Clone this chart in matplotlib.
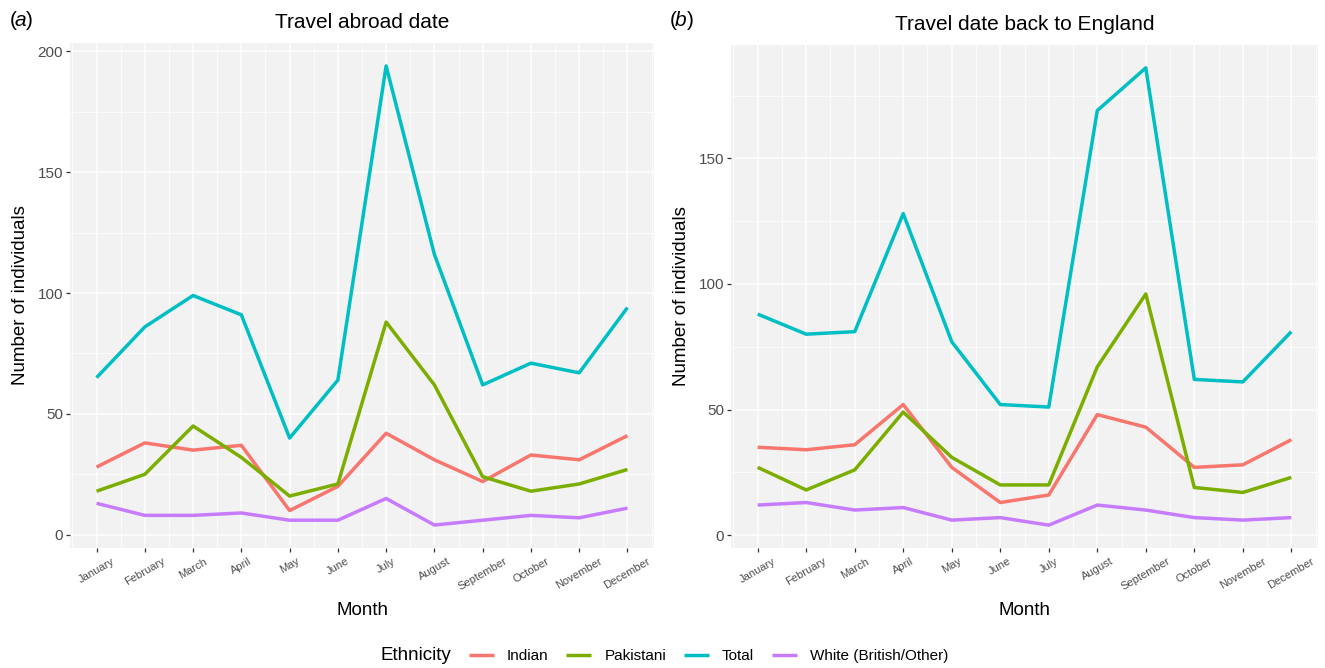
import numpy as np
import matplotlib.pyplot as plt
from matplotlib.ticker import MultipleLocator

months = ["January", "February", "March", "April", "May", "June", "July",
          "August", "September", "October", "November", "December"]
groups = ["Indian", "Pakistani", "Total", "White (British/Other)"]
colores = ["#F8766D", "#7CAE00", "#00BFC4", "#C77CFF"]

# (a) Travel abroad date
abroad_indian = [28, 38, 35, 37, 10, 20, 42, 31, 22, 33, 31, 41]
abroad_pakistani = [18, 25, 45, 32, 16, 21, 88, 62, 24, 18, 21, 27]
abroad_total = [65, 86, 99, 91, 40, 64, 194, 116, 62, 71, 67, 94]
abroad_white = [13, 8, 8, 9, 6, 6, 15, 4, 6, 8, 7, 11]

# (b) Travel date back to England
back_indian = [35, 34, 36, 52, 27, 13, 16, 48, 43, 27, 28, 38]
back_pakistani = [27, 18, 26, 49, 31, 20, 20, 67, 96, 19, 17, 23]
back_total = [88, 80, 81, 128, 77, 52, 51, 169, 186, 62, 61, 81]
back_white = [12, 13, 10, 11, 6, 7, 4, 12, 10, 7, 6, 7]

plt.rcParams['font.family'] = ['Liberation Sans', 'DejaVu Sans']

fig = plt.figure(figsize=(13.25, 6.68), dpi=100)
ax1 = fig.add_axes([70/1325, 1-548/668, 584/1325, 505/668])
ax2 = fig.add_axes([731/1325, 1-548/668, 587/1325, 503/668])

x = np.arange(1, 13)


def panel(ax, series, title):
	ax.set_facecolor("#F2F2F2")
	for s, c, g in zip(series, colores, groups):
		ax.plot(x, s, color=c, lw=2.5, label=g, solid_capstyle='butt')
	todo = np.concatenate([np.array(s) for s in series])
	lo, hi = todo.min(), todo.max()
	r = hi - lo
	ax.set_ylim(lo - 0.05*r, hi + 0.05*r)
	ax.set_xlim(1 - 0.55, 12 + 0.55)
	ax.set_xticks(x)
	ax.set_xticklabels(months, rotation=30, fontsize=8, color="#4D4D4D",
		ha='center', va='top')
	ax.xaxis.set_minor_locator(MultipleLocator(0.5))
	ax.yaxis.set_major_locator(MultipleLocator(50))
	ax.yaxis.set_minor_locator(MultipleLocator(25))
	ax.grid(which='major', color='white', lw=1.1)
	ax.grid(which='minor', color='white', lw=0.5)
	ax.set_axisbelow(True)
	for sp in ax.spines.values():
		sp.set_visible(False)
	ax.tick_params(which='major', length=3, color="#333333", width=0.9,
		labelsize=11, labelcolor="#4D4D4D", pad=2)
	ax.tick_params(axis='x', labelsize=8, pad=3)
	ax.tick_params(which='minor', length=0)
	ax.set_xlabel("Month", fontsize=13.5, labelpad=7)
	ax.set_ylabel("Number of individuals", fontsize=13.5, labelpad=6)
	ax.set_title(title, fontsize=15, pad=11)


panel(ax1, [abroad_indian, abroad_pakistani, abroad_total, abroad_white],
	"Travel abroad date")
panel(ax2, [back_indian, back_pakistani, back_total, back_white],
	"Travel date back to England")

fig.text(10/1325, 1-21/668, "(", fontsize=15, va='center')
fig.text(15/1325, 1-21/668, "a", fontsize=15, va='center', style='italic')
fig.text(26/1325, 1-21/668, ")", fontsize=15, va='center')
fig.text(670/1325, 1-21/668, "(", fontsize=15, va='center')
fig.text(675/1325, 1-21/668, "b", fontsize=15, va='center', style='italic')
fig.text(687/1325, 1-21/668, ")", fontsize=15, va='center')

handles, labels = ax1.get_legend_handles_labels()
fig.text(380/1325, 1-656/668, "Ethnicity", fontsize=13.5, va='center')
fig.legend(handles, labels, loc='center left', bbox_to_anchor=(455/1325, 1-656/668),
	ncol=4, frameon=False, fontsize=11, handlelength=1.65, columnspacing=1.15,
	handletextpad=0.85)

plt.savefig("out.png", dpi=100)
